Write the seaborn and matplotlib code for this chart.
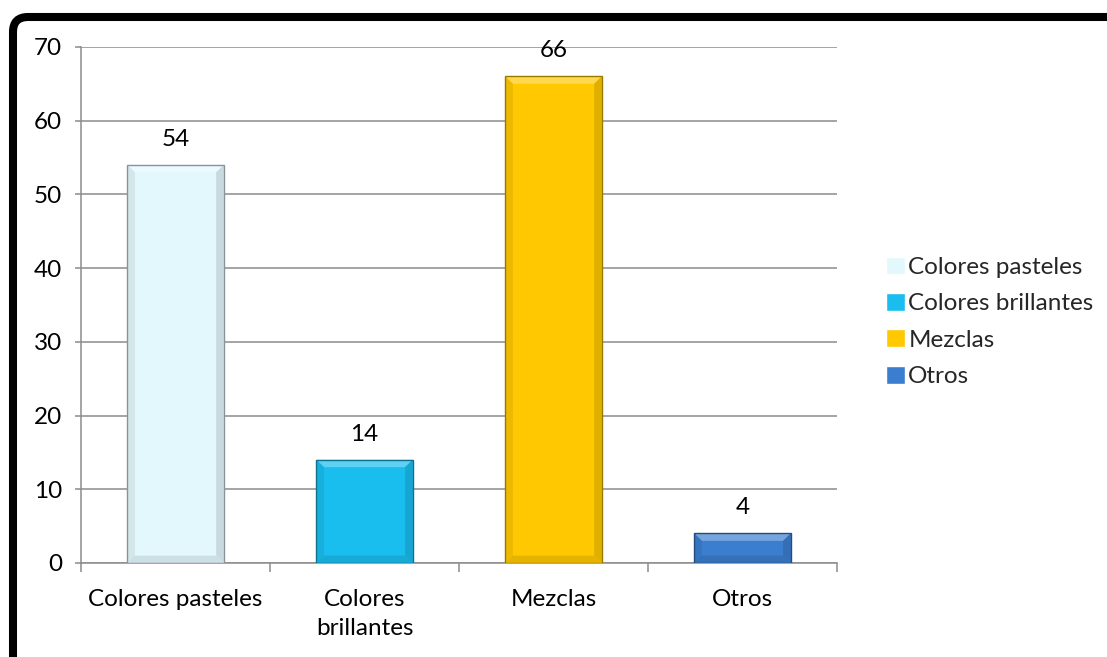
import matplotlib
matplotlib.use("Agg")
import matplotlib.pyplot as plt
import matplotlib.colors as mcolors
from matplotlib.patches import FancyBboxPatch, Polygon
import seaborn as sns
import pandas as pd

# Survey results: preferred colour type
categories = ["Colores pasteles", "Colores brillantes", "Mezclas", "Otros"]
tick_labels = ["Colores pasteles", "Colores\nbrillantes", "Mezclas", "Otros"]
values = [54, 14, 66, 4]
bar_colors = ["#E3F8FD", "#19BDEE", "#FFC800", "#3B7DCE"]
y_ticks = [0, 10, 20, 30, 40, 50, 60, 70]

sns.set_theme(style="white")
plt.rcParams["font.family"] = ["Lato", "DejaVu Sans"]

GRID = "#8C8C8C"
FS = 17.5

df = pd.DataFrame({"categoria": categories, "valor": values})

fig = plt.figure(figsize=(11.07, 6.57), dpi=100)
fig.patch.set_facecolor("white")
ax = fig.add_axes([0.0732, 0.1431, 0.6829, 0.7854])

sns.barplot(
    data=df, x="categoria", y="valor", hue="categoria",
    order=categories, hue_order=categories,
    palette=dict(zip(categories, bar_colors)),
    width=0.51, saturation=1, legend=True, ax=ax, zorder=3,
)


def mix(c, other, t):
    a = mcolors.to_rgb(c)
    b = mcolors.to_rgb(other)
    return tuple(a[i] * (1 - t) + b[i] * t for i in range(3))


# bevelled look on each bar, built from the bar geometry
bx, by = 0.04, 1.0
for patch in ax.patches:
    x0, w, h = patch.get_x(), patch.get_width(), patch.get_height()
    if w <= 0 or h <= 0:
        continue
    fc = patch.get_facecolor()
    patch.set_edgecolor("none")
    x1, top = x0 + w, h
    bv = min(by, h * 0.3)
    # top (light)
    ax.add_patch(Polygon([(x0, top), (x1, top), (x1 - bx, top - bv), (x0 + bx, top - bv)],
                         closed=True, facecolor=mix(fc, "white", 0.3), edgecolor="none", zorder=4))
    # sides (slightly darker)
    ax.add_patch(Polygon([(x0, top), (x0 + bx, top - bv), (x0 + bx, bv), (x0, 0)],
                         closed=True, facecolor=mix(fc, "black", 0.07), edgecolor="none", zorder=4))
    ax.add_patch(Polygon([(x1, top), (x1 - bx, top - bv), (x1 - bx, bv), (x1, 0)],
                         closed=True, facecolor=mix(fc, "black", 0.12), edgecolor="none", zorder=4))
    # bottom (darker)
    ax.add_patch(Polygon([(x0, 0), (x1, 0), (x1 - bx, bv), (x0 + bx, bv)],
                         closed=True, facecolor=mix(fc, "black", 0.1), edgecolor="none", zorder=4))
    # outline on top of overlays
    ax.add_patch(plt.Rectangle((x0, 0), w, h, facecolor="none",
                               edgecolor=mix(fc, "black", 0.4), linewidth=1.0, zorder=5))

for cont in ax.containers:
    ax.bar_label(cont, fmt="%d", padding=11, fontsize=FS, color="black", zorder=6)

ax.set_xlim(-0.5, 3.5)
ax.set_ylim(0, 70)
ax.set_yticks(y_ticks)
ax.set_xticks(range(len(categories)))
ax.set_xticklabels(tick_labels, fontsize=FS, linespacing=1.45)
ax.set_xticks([i - 0.5 for i in range(len(categories) + 1)], minor=True)
ax.set_xlabel("")
ax.set_ylabel("")

ax.grid(axis="y", color=GRID, linewidth=1.1, zorder=0)
ax.set_axisbelow(True)
for side in ["top", "right"]:
    ax.spines[side].set_visible(False)
for side in ["left", "bottom"]:
    ax.spines[side].set_color(GRID)
    ax.spines[side].set_linewidth(1.1)
    ax.spines[side].set_zorder(2)

ax.tick_params(axis="y", which="major", left=True, length=4.5, width=1.1, color=GRID,
               labelsize=FS, pad=9, labelcolor="black")
ax.tick_params(axis="x", which="major", bottom=False, length=0, labelsize=FS, pad=19,
               labelcolor="black")
ax.tick_params(axis="x", which="minor", bottom=True, length=6.5, width=1.1, color=GRID)

handles, labels = ax.get_legend_handles_labels()
if ax.get_legend() is not None:
    ax.get_legend().remove()
fig.legend(handles, labels, loc="center left", bbox_to_anchor=(0.792, 0.51),
           frameon=False, fontsize=FS, handlelength=0.75, handleheight=0.75,
           handletextpad=0.15, labelspacing=0.62, borderaxespad=0)

# frame around the whole chart (runs off the right and bottom edges)
frame = FancyBboxPatch((0.13, -1.0), 12.0, 7.40,
                       boxstyle="round,pad=0,rounding_size=0.15",
                       transform=fig.dpi_scale_trans, facecolor="none",
                       edgecolor="black", linewidth=5.8, clip_on=False)
fig.add_artist(frame)

fig.savefig("out.png", dpi=100, facecolor="white")
